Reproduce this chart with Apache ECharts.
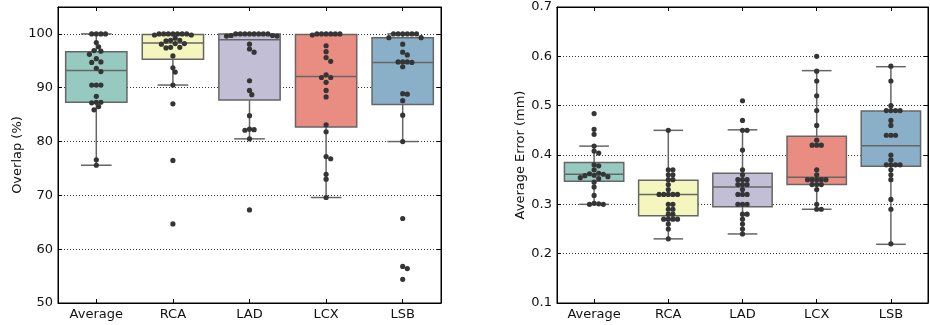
<!DOCTYPE html>
<html>
<head>
<meta charset="utf-8">
<script src="https://cdn.jsdelivr.net/npm/echarts@6/dist/echarts.min.js"></script>
<style>
  html, body { margin: 0; padding: 0; background: #fff; }
  #chart { width: 930px; height: 325px; }
</style>
</head>
<body>
<div id="chart"></div>
<script>
const categories = ['Average', 'RCA', 'LAD', 'LCX', 'LSB']
const boxColors = ['#96cac1', '#f5f5be', '#c1bed6', '#e98c81', '#8aafc9']

// overlap (%) per subject
const ovAverage = [100, 100, 100, 100, 98.4, 97.6, 96.9, 96.8, 96.2, 95.4, 94.8, 94.7, 93.6, 93.0, 90.5, 90.5, 90.5, 88.4, 87.3, 87.3, 87.2, 86.5, 85.9, 76.6, 75.6]
const ovRCA = [100, 100, 100, 100, 100, 100, 100, 99.8, 99.8, 99.2, 98.8, 98.8, 98.7, 98.2, 98.2, 98.1, 97.5, 97.5, 97.4, 95.9, 93.7, 92.9, 90.5, 87.0, 76.5, 64.7]
const ovLAD = [100, 100, 100, 100, 100, 100, 100, 100, 99.7, 99.7, 99.6, 99.6, 98.1, 97.2, 96.6, 91.3, 89.5, 88.7, 84.8, 82.3, 82.2, 82.1, 80.5, 67.3]
const ovLCX = [100, 100, 100, 100, 100, 100, 99.8, 97.8, 96.7, 95.6, 94.9, 92.4, 91.9, 91.9, 91.0, 89.5, 88.3, 83.1, 81.8, 77.2, 76.8, 73.9, 73.0, 69.6]
const ovLSB = [100, 100, 100, 100, 100, 100, 99.3, 99.3, 98.1, 96.6, 96.1, 94.8, 94.8, 94.8, 94.7, 93.9, 88.9, 88.8, 87.6, 84.9, 80.0, 65.7, 56.8, 56.4, 54.4]
// [lower whisker, Q1, median, Q3, upper whisker]
const ovBoxes = [
  [75.6, 87.3, 93.2, 96.7, 100],
  [90.5, 95.3, 98.3, 99.9, 100],
  [80.5, 87.7, 98.9, 100, 100],
  [69.6, 82.7, 92.1, 99.9, 100],
  [80.0, 86.9, 94.7, 99.3, 100],
]

// average error (mm) per subject
const erAverage = [0.484, 0.452, 0.442, 0.418, 0.408, 0.404, 0.380, 0.378, 0.370, 0.363, 0.362, 0.361, 0.359, 0.358, 0.356, 0.354, 0.352, 0.345, 0.335, 0.318, 0.302, 0.301, 0.300, 0.300]
const erRCA = [0.45, 0.37, 0.37, 0.36, 0.36, 0.35, 0.35, 0.34, 0.33, 0.32, 0.32, 0.32, 0.32, 0.32, 0.30, 0.30, 0.29, 0.29, 0.28, 0.28, 0.27, 0.27, 0.27, 0.27, 0.26, 0.25, 0.23]
const erLAD = [0.51, 0.47, 0.45, 0.45, 0.41, 0.37, 0.36, 0.35, 0.35, 0.35, 0.34, 0.34, 0.34, 0.33, 0.32, 0.32, 0.32, 0.30, 0.30, 0.30, 0.28, 0.28, 0.27, 0.26, 0.25, 0.24]
const erLCX = [0.60, 0.57, 0.55, 0.52, 0.49, 0.46, 0.43, 0.42, 0.42, 0.42, 0.37, 0.36, 0.35, 0.35, 0.35, 0.35, 0.35, 0.34, 0.34, 0.34, 0.33, 0.30, 0.29, 0.29]
const erLSB = [0.58, 0.55, 0.50, 0.49, 0.49, 0.49, 0.49, 0.47, 0.46, 0.44, 0.44, 0.44, 0.40, 0.39, 0.38, 0.38, 0.38, 0.38, 0.37, 0.36, 0.35, 0.31, 0.29, 0.22]
const erBoxes = [
  [0.300, 0.347, 0.361, 0.385, 0.418],
  [0.230, 0.277, 0.320, 0.349, 0.450],
  [0.240, 0.295, 0.335, 0.363, 0.451],
  [0.290, 0.340, 0.355, 0.438, 0.571],
  [0.219, 0.377, 0.419, 0.489, 0.579],
]

const FONT = 'DejaVu Sans'
const DOT = 4.6   // swarm spacing, px

// beeswarm: place each point at the nearest free horizontal offset
function swarm(ys) {
  const placed = []
  return ys.map(y => {
    for (let k = 0; k < 60; k++) {
      const off = k === 0 ? 0 : (k % 2 ? 1 : -1) * Math.ceil(k / 2) * DOT / 2
      const hit = placed.some(p => Math.hypot(p[0] - off, p[1] - y) < DOT - 0.01)
      if (!hit) { placed.push([off, y]); return off }
    }
    return 0
  })
}

function boxSeries(boxes, axis) {
  return {
    type: 'custom',
    xAxisIndex: axis, yAxisIndex: axis,
    silent: true,
    z: 2,
    data: boxes.map((b, i) => [i, ...b]),
    renderItem(params, api) {
      const c = api.value(0)
      const w = api.size([1, 0])[0] * 0.8
      const lo = api.coord([c, api.value(1)])
      const q1 = api.coord([c, api.value(2)])
      const md = api.coord([c, api.value(3)])
      const q3 = api.coord([c, api.value(4)])
      const hi = api.coord([c, api.value(5)])
      const x = lo[0]
      const line = { stroke: '#666', lineWidth: 1.5 }
      return {
        type: 'group',
        children: [
          { type: 'line', shape: { x1: x, y1: q3[1], x2: x, y2: hi[1] }, style: line },
          { type: 'line', shape: { x1: x, y1: q1[1], x2: x, y2: lo[1] }, style: line },
          { type: 'line', shape: { x1: x - w / 4, y1: hi[1], x2: x + w / 4, y2: hi[1] }, style: line },
          { type: 'line', shape: { x1: x - w / 4, y1: lo[1], x2: x + w / 4, y2: lo[1] }, style: line },
          { type: 'rect', shape: { x: x - w / 2, y: q3[1], width: w, height: q1[1] - q3[1] },
            style: { fill: boxColors[c], stroke: '#666', lineWidth: 1.5 } },
          { type: 'line', shape: { x1: x - w / 2, y1: md[1], x2: x + w / 2, y2: md[1] }, style: line },
        ],
      }
    },
  }
}

function dotSeries(groups, axis) {
  const data = []
  groups.forEach((vals, c) => vals.forEach((v, j) => data.push([c, v, j])))
  return {
    type: 'custom',
    xAxisIndex: axis, yAxisIndex: axis,
    silent: true,
    z: 5,
    data,
    renderItem(params, api) {
      const c = api.value(0)
      const j = api.value(2)
      const ys = groups[c].map(v => api.coord([c, v])[1])
      const offs = swarm(ys)
      const p = api.coord([c, api.value(1)])
      return {
        type: 'circle',
        shape: { cx: p[0] + offs[j], cy: p[1], r: 2.6 },
        style: { fill: '#353535' },
      }
    },
  }
}

const axisText = { color: '#111', fontFamily: FONT, fontSize: 13 }
const tick = { show: true, inside: true, length: 4, lineStyle: { color: '#000' } }
const frame = { show: true, lineStyle: { color: '#000', width: 1 } }

function xAxes(grid) {
  return [
    {
      type: 'category', gridIndex: grid, data: categories, position: 'bottom',
      axisLine: frame, axisTick: { ...tick, alignWithLabel: true },
      axisLabel: { ...axisText, margin: 5 }, splitLine: { show: false },
    },
    {
      type: 'category', gridIndex: grid, data: categories, position: 'top',
      axisLine: frame, axisTick: { ...tick, alignWithLabel: true },
      axisLabel: { show: false }, splitLine: { show: false },
    },
  ]
}

function yAxes(grid, min, max, step, name, gap, fmt) {
  return [
    {
      type: 'value', gridIndex: grid, min, max, interval: step, position: 'left',
      name, nameLocation: 'middle', nameGap: gap,
      nameTextStyle: { color: '#111', fontFamily: FONT, fontSize: 13 },
      axisLine: frame, axisTick: tick,
      axisLabel: { ...axisText, margin: 5, showMaxLabel: fmt ? true : false, formatter: fmt },
      splitLine: { show: true, lineStyle: { color: '#333', type: [1, 2], width: 1 } },
    },
    {
      type: 'value', gridIndex: grid, min, max, interval: step, position: 'right',
      axisLine: frame, axisTick: tick, axisLabel: { show: false }, splitLine: { show: false },
    },
  ]
}

const chart = echarts.init(document.getElementById('chart'))
const [lx0, lx1] = xAxes(0)
const [rx0, rx1] = xAxes(1)
const [ly0, ly1] = yAxes(0, 50, 105, 10, 'Overlap (%)', 34)
const [ry0, ry1] = yAxes(1, 0.1, 0.7, 0.1, 'Average Error (mm)', 29, v => v.toFixed(1))

chart.setOption({
  backgroundColor: '#fff',
  animation: false,
  grid: [
    { left: 58, right: 489, top: 7, bottom: 22, show: true, borderColor: '#000', borderWidth: 1, backgroundColor: 'transparent' },
    { left: 557, right: 2, top: 7, bottom: 22, show: true, borderColor: '#000', borderWidth: 1, backgroundColor: 'transparent' },
  ],
  xAxis: [lx0, lx1, rx0, rx1],
  yAxis: [ly0, ly1, ry0, ry1],
  series: [
    boxSeries(ovBoxes, 0),
    dotSeries([ovAverage, ovRCA, ovLAD, ovLCX, ovLSB], 0),
    boxSeries(erBoxes, 2),
    dotSeries([erAverage, erRCA, erLAD, erLCX, erLSB], 2),
  ],
})
</script>
</body>
</html>
